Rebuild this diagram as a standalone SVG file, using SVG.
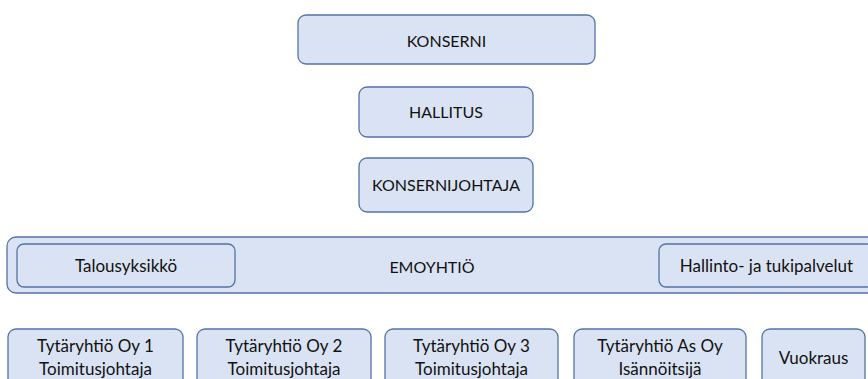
<svg xmlns="http://www.w3.org/2000/svg" width="868" height="379" viewBox="0 0 868 379">
  <style>
    .box { fill: #dae3f3; stroke: #5473a6; stroke-width: 1.3; }
    .lbl { font-family: Lato, "Liberation Sans", sans-serif; font-size: 17px; fill: #111111; text-anchor: middle; }
    .caps { font-size: 16px; }
  </style>
  <rect width="868" height="379" fill="#ffffff"/>

  <!-- no connectors between the units -->
  <g id="connectors"/>

  <g id="konserni">
    <rect class="box" x="298" y="15" width="297" height="49" rx="8"/>
    <text class="lbl caps" x="446.5" y="47">KONSERNI</text>
  </g>

  <g id="hallitus">
    <rect class="box" x="359" y="87" width="174" height="50" rx="8"/>
    <text class="lbl caps" x="446" y="118">HALLITUS</text>
  </g>

  <g id="konsernijohtaja">
    <rect class="box" x="359" y="158" width="174" height="54" rx="8"/>
    <text class="lbl caps" x="446" y="191">KONSERNIJOHTAJA</text>
  </g>

  <g id="emoyhtio">
    <rect class="box" x="7" y="237" width="870" height="56" rx="9"/>
    <text class="lbl caps" x="432" y="273">EMOYHTIÖ</text>
  </g>

  <g id="talousyksikko">
    <rect class="box" x="17" y="244" width="218" height="43" rx="7"/>
    <text class="lbl" x="126" y="272">Talousyksikkö</text>
  </g>

  <g id="hallinto">
    <rect class="box" x="659" y="244" width="215" height="43" rx="7"/>
    <text class="lbl" x="766.5" y="272">Hallinto- ja tukipalvelut</text>
  </g>

  <g id="tytar1">
    <rect class="box" x="8" y="329" width="175" height="70" rx="8"/>
    <text class="lbl" x="95.5" y="352">Tytäryhtiö Oy 1</text>
    <text class="lbl" x="95.5" y="375">Toimitusjohtaja</text>
  </g>

  <g id="tytar2">
    <rect class="box" x="197" y="329" width="174" height="70" rx="8"/>
    <text class="lbl" x="284" y="352">Tytäryhtiö Oy 2</text>
    <text class="lbl" x="284" y="375">Toimitusjohtaja</text>
  </g>

  <g id="tytar3">
    <rect class="box" x="385" y="329" width="173" height="70" rx="8"/>
    <text class="lbl" x="471.5" y="352">Tytäryhtiö Oy 3</text>
    <text class="lbl" x="471.5" y="375">Toimitusjohtaja</text>
  </g>

  <g id="tytar-asoy">
    <rect class="box" x="574" y="329" width="172" height="70" rx="8"/>
    <text class="lbl" x="660" y="352">Tytäryhtiö As Oy</text>
    <text class="lbl" x="660" y="375">Isännöitsijä</text>
  </g>

  <g id="vuokraus">
    <rect class="box" x="762" y="329" width="103" height="70" rx="8"/>
    <text class="lbl" x="813.5" y="364">Vuokraus</text>
  </g>
</svg>
